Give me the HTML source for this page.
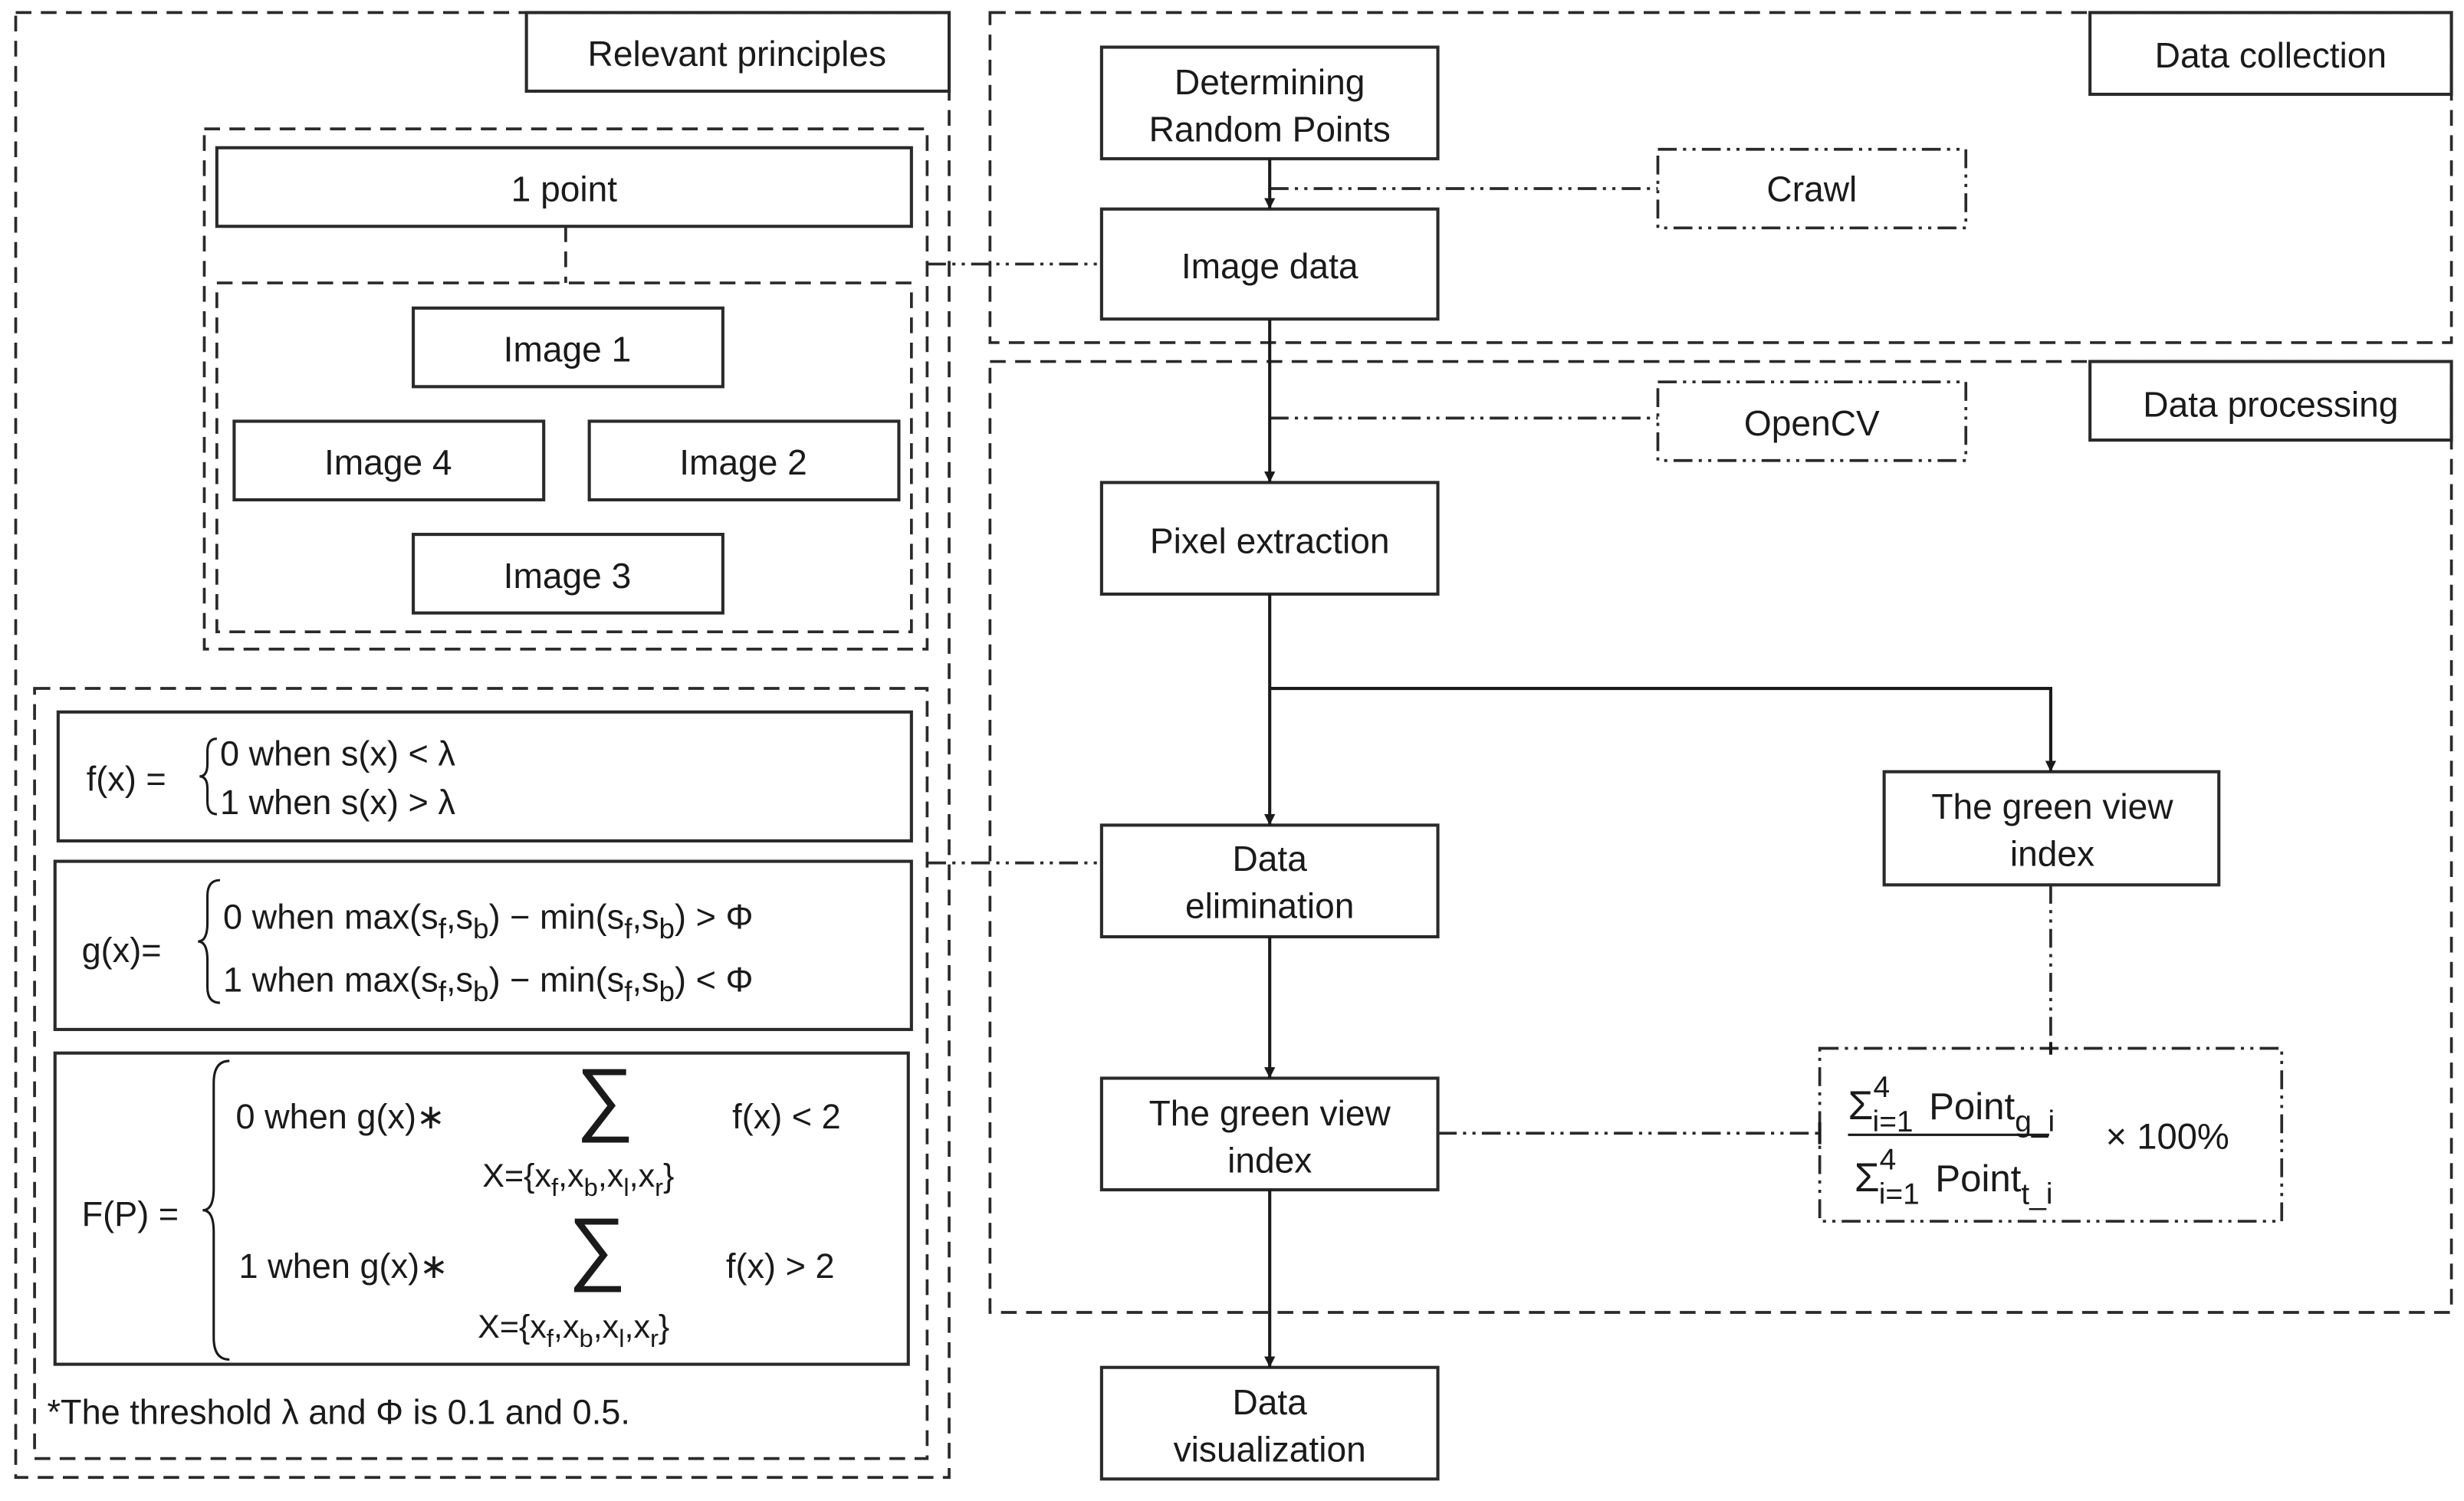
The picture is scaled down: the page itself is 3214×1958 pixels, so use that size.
<!DOCTYPE html>
<html><head><meta charset="utf-8"><style>
html,body{margin:0;padding:0;background:#fff;}
svg{display:block;}
text{font-family:"Liberation Sans",sans-serif;fill:#1a1a1a;}
</style></head><body>
<svg width="3214" height="1958" viewBox="0 0 1568 955" preserveAspectRatio="none" xmlns="http://www.w3.org/2000/svg">
<defs>
<marker id="ar" viewBox="0 0 10 10" refX="10" refY="5" markerWidth="7" markerHeight="7" markerUnits="userSpaceOnUse" orient="auto"><path d="M0,0 L10,5 L0,10 z" fill="#1a1a1a"/></marker>
</defs>
<g fill="none" stroke="#2a2a2a">
<g stroke-width="1.8" stroke-dasharray="10 6">
<rect x="10" y="8" width="594" height="932"/>
<rect x="130" y="82" width="460" height="331"/>
<rect x="138" y="180" width="442" height="222"/>
<rect x="22" y="438" width="568" height="490"/>
<rect x="630" y="8" width="930" height="210"/>
<rect x="630" y="230" width="930" height="605"/>
<line x1="360" y1="144" x2="360" y2="180"/>
</g>
<g stroke-width="2">
<rect x="335" y="8" width="269" height="50"/>
<rect x="1330" y="8" width="230" height="52"/>
<rect x="1330" y="230" width="230" height="50"/>
<rect x="138" y="94" width="442" height="50"/>
<rect x="263" y="196" width="197" height="50"/>
<rect x="149" y="268" width="197" height="50"/>
<rect x="375" y="268" width="197" height="50"/>
<rect x="263" y="340" width="197" height="50"/>
<rect x="37" y="453" width="543" height="82"/>
<rect x="35" y="548" width="545" height="107"/>
<rect x="35" y="670" width="543" height="198"/>
<rect x="701" y="30" width="214" height="71"/>
<rect x="701" y="133" width="214" height="70"/>
<rect x="701" y="307" width="214" height="71"/>
<rect x="701" y="525" width="214" height="71"/>
<rect x="701" y="686" width="214" height="71"/>
<rect x="701" y="870" width="214" height="71"/>
<rect x="1199" y="491" width="213" height="72"/>
</g>
<g stroke-width="1.8" stroke-dasharray="12 4 2 4 2 4">
<rect x="1055" y="95" width="196" height="50"/>
<rect x="1055" y="243" width="196" height="50"/>
<rect x="1158" y="667" width="294" height="110"/>
<line x1="808" y1="120" x2="1055" y2="120"/>
<line x1="808" y1="266" x2="1055" y2="266"/>
<line x1="590" y1="168" x2="701" y2="168"/>
<line x1="590" y1="549" x2="701" y2="549"/>
<line x1="915" y1="721" x2="1158" y2="721"/>
<line x1="1305" y1="563" x2="1305" y2="667"/>
</g>
<g stroke-width="2" stroke="#1a1a1a">
<line x1="808" y1="101" x2="808" y2="133" marker-end="url(#ar)"/>
<line x1="808" y1="203" x2="808" y2="307" marker-end="url(#ar)"/>
<line x1="808" y1="378" x2="808" y2="525" marker-end="url(#ar)"/>
<polyline points="808,438 1305,438 1305,491" marker-end="url(#ar)"/>
<line x1="808" y1="596" x2="808" y2="686" marker-end="url(#ar)"/>
<line x1="808" y1="757" x2="808" y2="870" marker-end="url(#ar)"/>
<line x1="1305" y1="663" x2="1305" y2="671"/>
<line x1="1158" y1="714" x2="1158" y2="728"/>
</g>
<g stroke-width="1.5" stroke="#1a1a1a">
<path d="M138,470 q-6,0 -6,8 v8 q0,8 -5,8 q5,0 5,8 v8 q0,8 6,8"/>
<path d="M140,560 q-8,0 -8,10 v17 q0,12 -6,12 q6,0 6,12 v17 q0,10 8,10"/>
<path d="M146,675 q-10,0 -10,14 v67 q0,14 -7,14 q7,0 7,14 v67 q0,14 10,14"/>
<line x1="1176" y1="722" x2="1304" y2="722"/>
</g>
</g>
<g font-size="22.5" text-anchor="middle">
<text x="469" y="42">Relevant principles</text>
<text x="1445" y="43">Data collection</text>
<text x="1445" y="265">Data processing</text>
<text x="359" y="128">1 point</text>
<text x="361" y="230">Image 1</text>
<text x="247" y="302">Image 4</text>
<text x="473" y="302">Image 2</text>
<text x="361" y="374">Image 3</text>
<text x="808" y="60">Determining</text>
<text x="808" y="90">Random Points</text>
<text x="808" y="177">Image data</text>
<text x="1153" y="128">Crawl</text>
<text x="1153" y="277">OpenCV</text>
<text x="808" y="352">Pixel extraction</text>
<text x="808" y="554">Data</text>
<text x="808" y="584">elimination</text>
<text x="808" y="716">The green view</text>
<text x="808" y="746">index</text>
<text x="1306" y="521">The green view</text>
<text x="1306" y="551">index</text>
<text x="808" y="900">Data</text>
<text x="808" y="930">visualization</text>
</g>
<g font-size="22">
<text x="55" y="503">f(x) =</text>
<text x="140" y="487">0 when s(x) &lt; λ</text>
<text x="140" y="518">1 when s(x) &gt; λ</text>
<text x="52" y="612">g(x)=</text>
<text x="142" y="591">0 when  max(s<tspan font-size="18" dy="6">f</tspan><tspan dy="-6">,s</tspan><tspan font-size="18" dy="6">b</tspan><tspan dy="-6">)  − min(s</tspan><tspan font-size="18" dy="6">f</tspan><tspan dy="-6">,s</tspan><tspan font-size="18" dy="6">b</tspan><tspan dy="-6">) &gt; Φ</tspan></text>
<text x="142" y="631">1 when  max(s<tspan font-size="18" dy="6">f</tspan><tspan dy="-6">,s</tspan><tspan font-size="18" dy="6">b</tspan><tspan dy="-6">)  − min(s</tspan><tspan font-size="18" dy="6">f</tspan><tspan dy="-6">,s</tspan><tspan font-size="18" dy="6">b</tspan><tspan dy="-6">) &lt; Φ</tspan></text>
<text x="52" y="780">F(P) =</text>
<text x="150" y="718">0  when g(x)∗</text>
<text x="152" y="813">1 when g(x)∗</text>
<text x="466" y="718">f(x)  &lt; 2</text>
<text x="462" y="813">f(x)  &gt; 2</text>
<text x="385" y="716" font-size="52" text-anchor="middle">∑</text>
<text x="380" y="811" font-size="52" text-anchor="middle">∑</text>
<text x="307" y="755" font-size="21">X={x<tspan font-size="16" dy="6">f</tspan><tspan dy="-6">,x</tspan><tspan font-size="16" dy="6">b</tspan><tspan dy="-6">,x</tspan><tspan font-size="16" dy="6">l</tspan><tspan dy="-6">,x</tspan><tspan font-size="16" dy="6">r</tspan><tspan dy="-6">}</tspan></text>
<text x="304" y="851" font-size="21">X={x<tspan font-size="16" dy="6">f</tspan><tspan dy="-6">,x</tspan><tspan font-size="16" dy="6">b</tspan><tspan dy="-6">,x</tspan><tspan font-size="16" dy="6">l</tspan><tspan dy="-6">,x</tspan><tspan font-size="16" dy="6">r</tspan><tspan dy="-6">}</tspan></text>
<text x="30" y="906">*The threshold λ and Φ is 0.1 and 0.5.</text>
<text x="1176" y="712" font-size="26">Σ<tspan font-size="19" dy="-14">4</tspan><tspan font-size="19" dx="-11" dy="22">i=1</tspan><tspan font-size="24" dx="10" dy="-8">Point</tspan><tspan font-size="19" dy="8">g_i</tspan></text>
<text x="1180" y="758" font-size="26">Σ<tspan font-size="19" dy="-14">4</tspan><tspan font-size="19" dx="-11" dy="22">i=1</tspan><tspan font-size="24" dx="10" dy="-8">Point</tspan><tspan font-size="19" dy="8">t_i</tspan></text>
<text x="1340" y="731" font-size="23">× 100%</text>
</g>
</svg>
</body></html>
